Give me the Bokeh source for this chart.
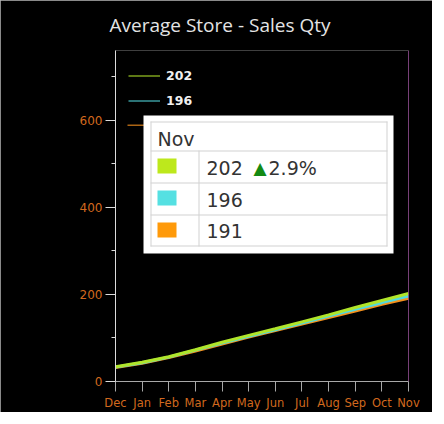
from bokeh.plotting import figure
from bokeh.models import (Range1d, FixedTicker, Span, Legend, LegendItem,
                          BoxAnnotation, Label)
from bokeh.embed import file_html
from bokeh.resources import INLINE

# ---------------- data ----------------
title_text = "Average Store - Sales Qty"
months = ["Dec", "Jan", "Feb", "Mar", "Apr", "May", "Jun", "Jul", "Aug", "Sep", "Oct", "Nov"]
sales_a = [34, 44, 57, 73, 90, 106, 121, 137, 153, 170, 186, 202.1]
sales_b = [33, 43, 56, 72, 88, 104, 119, 134, 150, 166, 181, 196.4]
sales_c = [32, 42, 55, 70, 86, 102, 117, 132, 147, 162, 177, 191.0]
y_major_ticks = [0, 200, 400, 600]
y_minor_ticks = [100, 300, 500, 700]
y_max = 760

colors = {"a": "#b0e52a", "b": "#52d9de", "c": "#f5901c"}
swatch_colors = {"a": "#bde81c", "b": "#55e0e2", "c": "#ff9a0a"}

x = list(range(len(months)))
name_a = f"{round(sales_a[-1])}"
name_b = f"{round(sales_b[-1])}"
name_c = f"{round(sales_c[-1])}"
pct = (sales_a[-1] / sales_b[-1] - 1) * 100

# ---------------- figure ----------------
FL, FT, FR, FB = 115, 50, 408, 382   # frame edges (px)
W, H = 432, 412
p = figure(width=W, height=H, x_range=Range1d(0, len(months) - 1),
           y_range=Range1d(0, y_max), output_backend="svg", toolbar_location=None,
           min_border_left=FL, min_border_right=W - FR, min_border_top=FT,
           min_border_bottom=H - FB)
p.styles = {"outline": "1px solid #b8b8b8", "outline-offset": "-1px"}
p.background_fill_color = "black"
p.border_fill_color = "black"
p.outline_line_color = None
p.grid.visible = False

p.title.text = title_text
p.title.align = "left"
p.title.offset = -6
p.title.vertical_align = "top"
p.title.text_font = "Open Sans"
p.title.text_font_size = "19px"
p.title.text_font_style = "normal"
p.title.text_color = "#e4e4e4"
p.title.standoff = 21

tick_color = "#d2691e"

p.xaxis.ticker = FixedTicker(ticks=x)
p.xaxis.major_label_overrides = {i: m for i, m in enumerate(months)}
p.xaxis.axis_line_color = "#a8a8a8"
p.xaxis.major_tick_line_color = "#a8a8a8"
p.xaxis.major_tick_out = 10
p.xaxis.major_tick_in = 0
p.xaxis.minor_tick_line_color = None
p.xaxis.major_label_text_color = tick_color
p.xaxis.major_label_text_font = "DejaVu Sans"
p.xaxis.major_label_text_font_size = "11.5px"
p.xaxis.major_label_standoff = 4

p.yaxis.ticker = FixedTicker(ticks=y_major_ticks, minor_ticks=y_minor_ticks)
p.yaxis.axis_line_color = "#dcdcdc"
p.yaxis.major_tick_line_color = "#dcdcdc"
p.yaxis.minor_tick_line_color = "#dcdcdc"
p.yaxis.major_tick_out = 10
p.yaxis.major_tick_in = 0
p.yaxis.minor_tick_out = 4
p.yaxis.minor_tick_in = 0
p.yaxis.major_label_text_color = tick_color
p.yaxis.major_label_text_font = "DejaVu Sans"
p.yaxis.major_label_text_font_size = "12px"
p.yaxis.major_label_standoff = 3

# ---------------- lines ----------------
p.line(x, sales_c, line_color=colors["c"], line_width=3)
p.line(x, sales_b, line_color=colors["b"], line_width=3)
p.line(x, sales_a, line_color=colors["a"], line_width=3)

p.add_layout(Span(location=x[-1], dimension="height", line_color="#b040b0", line_width=1))

# legend (thin sample lines; one-point renderers draw nothing in the plot)
# the third entry (name_c) is hidden behind the tooltip; only its line stub shows
ra = p.line(x[-1:], sales_a[-1:], line_color=colors["a"], line_width=1.5, line_alpha=0.7)
rb = p.line(x[-1:], sales_b[-1:], line_color=colors["b"], line_width=1.5, line_alpha=0.7)
legend = Legend(items=[LegendItem(label=name_a, renderers=[ra]),
                       LegendItem(label=name_b, renderers=[rb])],
                location="top_left", background_fill_alpha=0, border_line_color=None,
                label_text_color="#f0f0f0", label_text_font="DejaVu Sans",
                label_text_font_style="bold", label_text_font_size="12.5px",
                glyph_width=32, glyph_height=25, label_height=25, spacing=0,
                padding=8, margin=13, label_standoff=6)
p.add_layout(legend)

# ---------------- tooltip ----------------
TEXT_SHIFT = 7  # label baseline correction (px)


def fx(px):
    return px - FL


def fy(py):
    return FB - py


def box(l, t, r, b, **kw):
    p.add_layout(BoxAnnotation(left=fx(l), right=fx(r), top=fy(t), bottom=fy(b),
                               left_units="screen", right_units="screen",
                               top_units="screen", bottom_units="screen", **kw))


def label(px, py, text, color="#333333", size="19px", font="DejaVu Sans"):
    p.add_layout(Label(x=fx(px), y=fy(py - TEXT_SHIFT), x_units="screen", y_units="screen",
                       text=text, text_color=color, text_font=font,
                       text_font_size=size, text_baseline="alphabetic"))


# visible stub of the hidden third legend entry
box(127, 125, 145, 126.5, fill_color=colors["c"], fill_alpha=0.7, line_color=None)

box(143, 116, 393, 254, fill_color="white", fill_alpha=1, line_color=None)
grid = "#d2d2d2"
box(150, 122, 151, 247, fill_color=grid, fill_alpha=1, line_color=None)
box(386, 122, 387, 247, fill_color=grid, fill_alpha=1, line_color=None)
box(150, 122, 387, 123, fill_color=grid, fill_alpha=1, line_color=None)
box(150, 246, 387, 247, fill_color=grid, fill_alpha=1, line_color=None)
for yy in (151, 183, 215):
    box(150, yy, 387, yy + 1, fill_color=grid, fill_alpha=1, line_color=None)
box(198, 151, 199, 247, fill_color=grid, fill_alpha=1, line_color=None)

box(157, 159, 176, 174, fill_color=swatch_colors["a"], fill_alpha=1, line_color=None)
box(157, 191, 176, 206, fill_color=swatch_colors["b"], fill_alpha=1, line_color=None)
box(157, 223, 176, 238, fill_color=swatch_colors["c"], fill_alpha=1, line_color=None)

label(157, 146, months[-1])
label(206, 175, name_a)
label(253, 175, "\u25b2", color="#138a13", size="17px")
label(268, 175, f"{pct:.1f}%")
label(206, 207, name_b)
label(206, 238, name_c)

open("out.html", "w").write(file_html(p, INLINE))
